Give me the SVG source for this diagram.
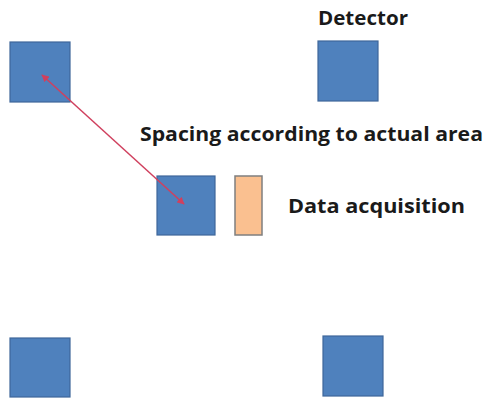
<svg xmlns="http://www.w3.org/2000/svg" width="485" height="401" viewBox="0 0 485 401">
<style>
.det{fill:#4f81bd;stroke:#3f679a;stroke-width:1.2}
.acq{fill:#fac090;stroke:#7f7f7f;stroke-width:1.5}
.lbl{font-family:"Open Sans","Noto Sans",sans-serif;font-weight:bold;fill:#1a1a1a}
.con{stroke:#d0405e;stroke-width:1.5;fill:none}
</style>
<defs>
<marker id="ah" viewBox="0 0 10 10" refX="9" refY="5" markerWidth="5" markerHeight="5" orient="auto-start-reverse" markerUnits="strokeWidth">
<path d="M0,0 L10,5 L0,10 z" fill="#d0405e"/>
</marker>
</defs>
<rect width="485" height="401" fill="#ffffff"/>
<g id="det-top-left"><rect class="det" x="10" y="42" width="60" height="60"/></g>
<g id="det-top-right"><rect class="det" x="318" y="41" width="60" height="60"/></g>
<g id="det-middle"><rect class="det" x="157" y="176" width="58" height="59"/></g>
<g id="acq-unit"><rect class="acq" x="235" y="176" width="27" height="59"/></g>
<g id="det-bottom-left"><rect class="det" x="10" y="338" width="60" height="59"/></g>
<g id="det-bottom-right"><rect class="det" x="323" y="336" width="60" height="60"/></g>
<g id="labels">
<text class="lbl" x="318" y="25" font-size="20" textLength="90" lengthAdjust="spacingAndGlyphs">Detector</text>
<text class="lbl" x="140" y="141" font-size="20" textLength="343" lengthAdjust="spacingAndGlyphs">Spacing according to actual area</text>
<text class="lbl" x="288" y="213" font-size="20" textLength="177" lengthAdjust="spacingAndGlyphs">Data acquisition</text>
</g>
<g id="connectors">
<line class="con" x1="42" y1="75" x2="184" y2="204" marker-start="url(#ah)" marker-end="url(#ah)"/>
</g>
</svg>
